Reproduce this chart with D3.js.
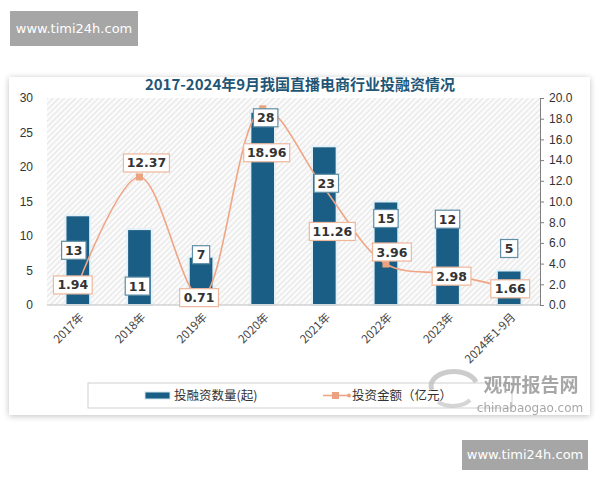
<!DOCTYPE html>
<html>
<head>
<meta charset="utf-8">
<script src="https://cdn.jsdelivr.net/npm/d3@7"></script>
<style>
  body { margin: 0; background: #fff; }
  svg { display: block; font-family: "Noto Sans CJK SC", "Noto Sans", sans-serif; }
</style>
</head>
<body>
<script>
// data
var years = ["2017年", "2018年", "2019年", "2020年", "2021年", "2022年", "2023年", "2024年1-9月"];
var dealCount = [13, 11, 7, 28, 23, 15, 12, 5];          // 投融资数量(起)
var dealAmount = [1.94, 12.37, 0.71, 18.96, 11.26, 3.96, 2.98, 1.66]; // 投资金额（亿元）
var leftTicks = [0, 5, 10, 15, 20, 25, 30];
var rightTicks = [0, 2, 4, 6, 8, 10, 12, 14, 16, 18, 20];

// label nudges (px) so boxes don't sit on top of each other
var barLabelDy = [35, 57, -2, 6, 37, 17, -3, -22];
var barLabelDx = [-4, -2, 0, 3, 2, 0, 0, 0];
var lineLabelDy = [0, -14, 0, 44, 43, -12, 2, 1];
var lineLabelDx = [-5, 7, -2, 4, 8, 6, 4, 1];

var W = 600, H = 480;
var margin = {top: 98, right: 60, bottom: 175, left: 47},
    width = 540 - margin.left,
    height = 305 - margin.top;

var svg = d3.select("body").append("svg")
    .attr("width", W)
    .attr("height", H);

var defs = svg.append("defs");

// hatch pattern for plot background
var pat = defs.append("pattern")
    .attr("id", "hatch")
    .attr("patternUnits", "userSpaceOnUse")
    .attr("width", 4).attr("height", 4)
    .attr("patternTransform", "rotate(45)");
pat.append("rect").attr("width", 4).attr("height", 4).attr("fill", "#fafafa");
pat.append("line").attr("x1", 0).attr("y1", 0).attr("x2", 0).attr("y2", 4)
    .attr("stroke", "#d8d8d8").attr("stroke-width", 1.3);

var shadow = defs.append("filter").attr("id", "shadow")
    .attr("x", "-5%").attr("y", "-5%").attr("width", "110%").attr("height", "110%");
shadow.append("feGaussianBlur").attr("in", "SourceAlpha").attr("stdDeviation", 3);
shadow.append("feOffset").attr("dx", 0).attr("dy", 1).attr("result", "b");
shadow.append("feComponentTransfer").append("feFuncA").attr("type", "linear").attr("slope", 0.25);
var mg = shadow.append("feMerge");
mg.append("feMergeNode");
mg.append("feMergeNode").attr("in", "SourceGraphic");

// top watermark
svg.append("rect").attr("x", 10).attr("y", 11).attr("width", 128).attr("height", 35).attr("fill", "#a6a6a6");
svg.append("text").attr("x", 74).attr("y", 33).attr("text-anchor", "middle")
    .attr("fill", "#fff").attr("font-size", 13).attr("font-family", "DejaVu Sans, sans-serif")
    .text("www.timi24h.com");

// card
svg.append("rect").attr("x", 9).attr("y", 77).attr("width", 581).attr("height", 338)
    .attr("fill", "#fff").attr("filter", "url(#shadow)");

// title
svg.append("text").attr("x", 300).attr("y", 90).attr("text-anchor", "middle")
    .attr("fill", "#1f5676").attr("font-size", 15).attr("font-weight", "bold")
    .attr("font-family", "Noto Sans CJK SC, sans-serif")
    .text("2017-2024年9月我国直播电商行业投融资情况");

var g = svg.append("g").attr("transform", "translate(" + margin.left + "," + margin.top + ")");

// scales
var x = d3.scaleBand().domain(years).range([0, width]).paddingInner(0.6).paddingOuter(0.3);
var yL = d3.scaleLinear().domain([0, 30]).range([height, 0]);
var yR = d3.scaleLinear().domain([0, 20]).range([height, 0]);

g.append("rect").attr("width", width).attr("height", height).attr("fill", "url(#hatch)");

// bars
g.selectAll(".bar").data(dealCount).enter().append("rect")
    .attr("class", "bar")
    .attr("x", function(d, i) { return x(years[i]); })
    .attr("y", function(d) { return yL(d); })
    .attr("width", x.bandwidth())
    .attr("height", function(d) { return height - yL(d); })
    .attr("fill", "#1b5e85")
    .attr("stroke", "#e4f1f7")
    .attr("stroke-width", 2);

// x axis line
g.append("line").attr("x1", 0).attr("x2", width).attr("y1", height).attr("y2", height)
    .attr("stroke", "#bfbfbf");

// left axis (labels only)
var axL = g.append("g").call(d3.axisLeft(yL).tickValues(leftTicks).tickSize(0).tickPadding(14));
axL.select(".domain").remove();
axL.selectAll("text").attr("font-size", 12).attr("fill", "#333").attr("font-family", "Liberation Sans, sans-serif");

// right axis
var axR = g.append("g").attr("transform", "translate(" + width + ",0)")
    .call(d3.axisRight(yR).tickValues(rightTicks).tickFormat(d3.format(".1f")).tickSize(4).tickPadding(5));
axR.select(".domain").attr("stroke", "#7f7f7f");
axR.selectAll(".tick line").attr("stroke", "#7f7f7f");
axR.selectAll("text").attr("font-size", 12).attr("fill", "#333").attr("font-family", "Liberation Sans, sans-serif");

// x labels rotated
g.selectAll(".xlab").data(years).enter().append("text")
    .attr("class", "xlab")
    .attr("transform", function(d) {
      return "translate(" + (x(d) + x.bandwidth() / 2 + 4) + "," + (height + 10) + ") rotate(-45)";
    })
    .attr("text-anchor", "end")
    .attr("dy", "0.35em")
    .attr("font-size", 11.5)
    .attr("fill", "#444")
    .text(function(d) { return d; });

// line
var line = d3.line()
    .x(function(d, i) { return x(years[i]) + x.bandwidth() / 2; })
    .y(function(d) { return yR(d); })
    .curve(d3.curveCatmullRom.alpha(0.5));

g.append("path").datum(dealAmount)
    .attr("d", line)
    .attr("fill", "none")
    .attr("stroke", "#f0a585")
    .attr("stroke-width", 1.6);

g.selectAll(".mk").data(dealAmount).enter().append("rect")
    .attr("class", "mk")
    .attr("x", function(d, i) { return x(years[i]) + x.bandwidth() / 2 - 3.5; })
    .attr("y", function(d) { return yR(d) - 3.5; })
    .attr("width", 7).attr("height", 7)
    .attr("fill", "#eba27e");

// data labels
function addLabel(cx, cy, txt, border) {
  var w = txt.length * 7.2 + 10, h = 18;
  var lg = g.append("g").attr("transform", "translate(" + cx + "," + cy + ")");
  lg.append("rect").attr("x", -w / 2).attr("y", -h / 2).attr("width", w).attr("height", h)
      .attr("fill", "#fff").attr("stroke", border).attr("stroke-width", 1.2);
  lg.append("text").attr("text-anchor", "middle").attr("dy", "0.36em")
      .attr("font-size", 12.5).attr("font-weight", "bold").attr("fill", "#333")
      .attr("font-family", "DejaVu Sans, sans-serif")
      .text(txt);
}

dealCount.forEach(function(d, i) {
  addLabel(x(years[i]) + x.bandwidth() / 2 + barLabelDx[i], yL(d) + barLabelDy[i], String(d), "#5f8ea6");
});
dealAmount.forEach(function(d, i) {
  addLabel(x(years[i]) + x.bandwidth() / 2 + lineLabelDx[i], yR(d) + lineLabelDy[i], d.toFixed(2), "#eeb79c");
});

// legend
svg.append("rect").attr("x", 88).attr("y", 383).attr("width", 424).attr("height", 25)
    .attr("fill", "#fff").attr("stroke", "#d0d0d0");
svg.append("rect").attr("x", 145).attr("y", 392).attr("width", 25).attr("height", 7)
    .attr("fill", "#1b5e85").attr("stroke", "#cfe3ee");
svg.append("text").attr("x", 174).attr("y", 400).attr("font-size", 12.5).attr("fill", "#333")
    .text("投融资数量(起)");
svg.append("line").attr("x1", 323).attr("x2", 350).attr("y1", 395.5).attr("y2", 395.5)
    .attr("stroke", "#f0a585").attr("stroke-width", 1.6);
svg.append("rect").attr("x", 332).attr("y", 392).attr("width", 7).attr("height", 7).attr("fill", "#eba27e");
svg.append("circle").attr("cx", 349).attr("cy", 395.5).attr("r", 2).attr("fill", "#eba27e");
svg.append("text").attr("x", 352).attr("y", 400).attr("font-size", 12.5).attr("fill", "#333")
    .text("投资金额（亿元）");

// chinabaogao watermark
var wm = svg.append("g").attr("opacity", 0.75);
wm.append("path").attr("d", "M432,390 A22,14 0 0 1 476,382")
    .attr("fill", "none").attr("stroke", "#bbb").attr("stroke-width", 5);
wm.append("path").attr("d", "M438,402 A20,12 0 0 0 470,400")
    .attr("fill", "none").attr("stroke", "#c8c8c8").attr("stroke-width", 4);
wm.append("text").attr("x", 531).attr("y", 392).attr("text-anchor", "middle")
    .attr("font-size", 19).attr("font-weight", "bold").attr("fill", "#8a8a8a")
    .text("观研报告网");
wm.append("text").attr("x", 530).attr("y", 412).attr("text-anchor", "middle")
    .attr("font-size", 12).attr("fill", "#8a8a8a").attr("font-family", "DejaVu Sans, sans-serif")
    .text("chinabaogao.com");

// bottom watermark
svg.append("rect").attr("x", 462).attr("y", 440).attr("width", 126).attr("height", 30).attr("fill", "#a6a6a6");
svg.append("text").attr("x", 525).attr("y", 459).attr("text-anchor", "middle")
    .attr("fill", "#fff").attr("font-size", 13).attr("font-family", "DejaVu Sans, sans-serif")
    .text("www.timi24h.com");
</script>
</body>
</html>
